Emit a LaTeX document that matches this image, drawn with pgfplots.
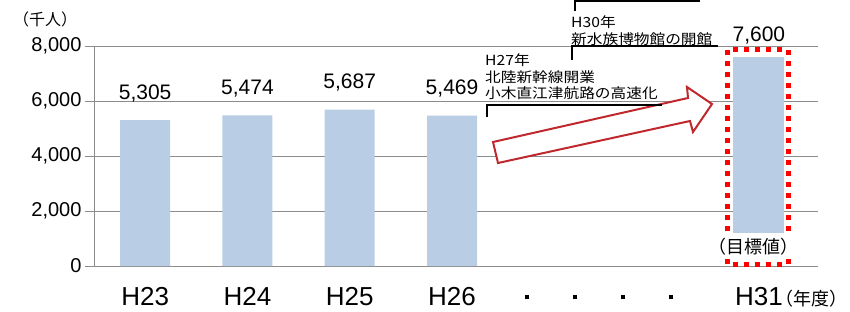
\documentclass[border=0pt]{standalone}
\usepackage{pgfplots}
\pgfplotsset{compat=1.18}
\usepackage{fontspec}
\usepackage{graphicx}
\setmainfont{Liberation Sans}
\newfontfamily\cjk{Noto Sans CJK JP}
\definecolor{barblue}{RGB}{185,205,229}
\definecolor{gridgray}{RGB}{140,140,140}
\definecolor{arrowred}{RGB}{192,40,45}
\definecolor{boxred}{RGB}{255,0,0}
\newcommand{\dotsq}{\rule[6pt]{4pt}{4pt}}
\begin{document}
\begin{tikzpicture}[x=1pt,y=1pt]
\useasboundingbox (0,0) rectangle (850,311);
\begin{axis}[
  at={(94pt,45pt)}, anchor=south west,
  scale only axis, width=715pt, height=220pt,
  xmin=-0.5, xmax=6.49, ymin=0, ymax=8000,
  clip=false,
  axis line style={draw=none},
  ytick={0,2000,4000,6000,8000},
  ymajorgrids, grid style={gridgray, line width=1pt},
  tick align=outside, major tick length=9pt,
  ytick style={gridgray, line width=1pt},
  xtick={0,1,2,3,3.73,4.2,4.67,5.14,6},
  xticklabels={H23,H24,H25,H26,\dotsq,\dotsq,\dotsq,\dotsq,H31\rlap{\cjk\fontsize{18}{18}\selectfont\kern-7pt （年度）}},
  xtick style={draw=none},
  xticklabel style={font=\fontsize{26}{26}\selectfont, anchor=base, yshift=-30pt},
  yticklabel style={font=\fontsize{20}{20}\selectfont},
  /pgf/number format/1000 sep={,},
  /pgf/number format/assume math mode=true,
]
\addplot[ybar, bar width=50pt, bar shift=0pt, fill=barblue, draw=none,
  nodes near coords,
  every node near coord/.append style={font=\fontsize{21}{21}\selectfont, anchor=center, yshift=27pt, text=black}]
  coordinates {(0,5305) (1,5474) (2,5687) (3,5469)};
\addplot[ybar, bar width=51pt, bar shift=0pt, fill=barblue, draw=none,
  nodes near coords,
  every node near coord/.append style={font=\fontsize{21}{21}\selectfont, anchor=center, yshift=21pt, text=black}]
  coordinates {(6,7600)};
% left axis line
\draw[gridgray, line width=1pt] (axis cs:-0.5,0) -- (axis cs:-0.5,8000);
% white gap below the target bar
\fill[white] (axis cs:5.72,0) rectangle (axis cs:6.28,1200);
\draw[gridgray, line width=1pt] (axis cs:5.6,0) -- (axis cs:6.4,0);
% red dotted target box
\draw[boxred, line width=5pt, dash pattern=on 5pt off 6pt] (axis cs:5.694,60) rectangle (axis cs:6.286,7855);
\node[fill=white, inner xsep=1pt, inner ysep=3pt, font=\cjk\fontsize{18}{18}\selectfont] at (axis cs:5.95,690) {（目標値）};
\end{axis}
% unit label
\node[font=\cjk\fontsize{16}{16}\selectfont, anchor=center] at (45,292) {（千人）};
% arrow
\draw[arrowred, line width=2pt, fill=white, line join=miter]
  (493,169) -- (688,213) -- (687,224) -- (712,207) -- (693,179) -- (690,190) -- (498,148) -- cycle;
% H27 annotation
\draw[black, line width=1.3pt] (487,194) -- (487,206) -- (662,206);
\node[anchor=base west, inner sep=0pt] at (485,245) {\scalebox{1.12}[1]{\cjk\fontsize{14}{14}\selectfont H27年}};
\node[anchor=base west, inner sep=0pt] at (485,228.5) {\scalebox{1.12}[1]{\cjk\fontsize{14}{14}\selectfont 北陸新幹線開業}};
\node[anchor=base west, inner sep=0pt] at (485,212) {\scalebox{1.12}[1]{\cjk\fontsize{14}{14}\selectfont 小木直江津航路の高速化}};
% H30 annotation
\draw[black, line width=1.3pt] (572,251) -- (572,265) -- (718,265);
\node[anchor=base west, inner sep=0pt] at (571,283) {\scalebox{1.12}[1]{\cjk\fontsize{14}{14}\selectfont H30年}};
\node[anchor=base west, inner sep=0pt] at (571,266.5) {\scalebox{1.12}[1]{\cjk\fontsize{14}{14}\selectfont 新水族博物館の開館}};
% cut-off bracket at the top
\draw[black, line width=1.3pt] (575,300) -- (575,310) -- (700,310);
\end{tikzpicture}
\end{document}
